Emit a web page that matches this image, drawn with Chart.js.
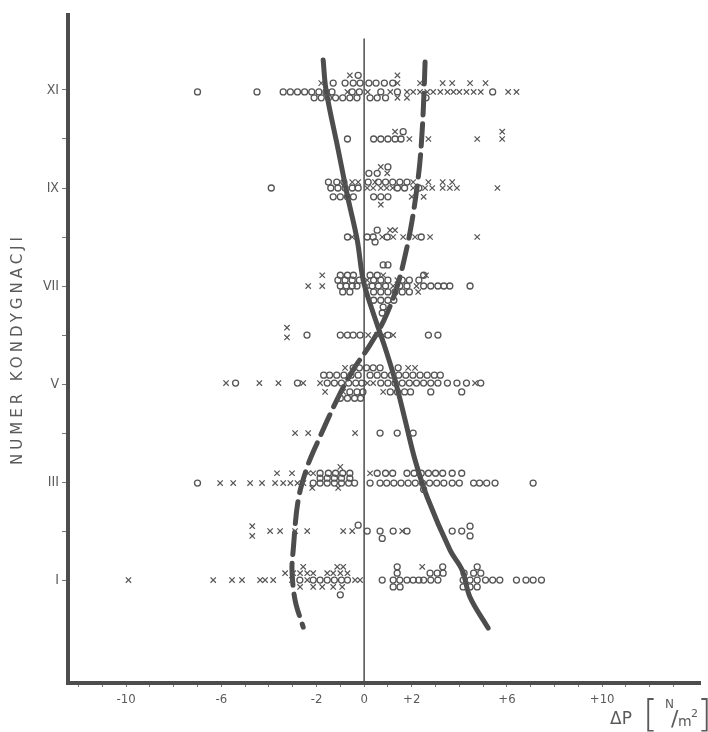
<!DOCTYPE html>
<html>
<head>
<meta charset="utf-8">
<title>Numer kondygnacji / ΔP</title>
<script src="https://cdn.jsdelivr.net/npm/chart.js@4.4.1/dist/chart.umd.min.js"></script>
<style>
  html, body { margin: 0; padding: 0; background: #fff; }
  #wrap { width: 708px; height: 732px; }
</style>
</head>
<body>
<div id="wrap"><canvas id="chart" width="708" height="732"></canvas></div>
<script>
// level numbers (I..XI) and the labels shown on the left axis
const levels = [1, 2, 3, 4, 5, 6, 7, 8, 9, 10, 11];
const levelLabels = ['I', '', 'III', '', 'V', '', 'VII', '', 'IX', '', 'XI'];
const xTickLabels = { '-10': '-10', '-6': '-6', '-2': '-2', '0': '0', '2': '+2', '6': '+6', '10': '+10' };

// measured points [ΔP, level]; rows are slightly stacked around each level
const crossPoints = [
  // XI
  [-0.6, 11.3], [1.4, 11.3],
  [-1.8, 11.14], [1.4, 11.14], [2.35, 11.14], [3.3, 11.14], [3.7, 11.14], [4.45, 11.14], [5.1, 11.14],
  [-0.7, 10.96], [0.15, 10.96], [1.1, 10.96], [1.8, 10.96], [2.06, 10.96], [2.35, 10.96], [2.65, 10.96],
  [2.9, 10.96], [3.2, 10.96], [3.5, 10.96], [3.75, 10.96], [4.0, 10.96], [4.3, 10.96], [4.6, 10.96],
  [4.9, 10.96], [6.05, 10.96], [6.4, 10.96],
  [1.4, 10.84], [1.8, 10.84],
  // X
  [1.9, 10], [2.7, 10], [4.75, 10], [5.8, 10], [1.3, 10.15], [5.8, 10.15],
  // IX
  [0.7, 9.43], [0.97, 9.3],
  [-0.5, 9.12], [-0.25, 9.12], [0.46, 9.12], [2.06, 9.12], [2.7, 9.12], [3.3, 9.12], [3.7, 9.12],
  [0.13, 9], [0.38, 9], [0.7, 9], [0.95, 9], [1.2, 9], [2.06, 9], [2.56, 9], [2.86, 9], [3.3, 9],
  [3.6, 9], [3.9, 9], [5.6, 9],
  [2.0, 8.82], [2.5, 8.82], [0.7, 8.66],
  // VIII
  [-0.5, 8], [0.76, 8], [1.22, 8], [1.64, 8], [2.14, 8], [2.77, 8], [4.75, 8], [1.09, 8.14], [1.3, 8.14],
  // VII
  [-1.76, 7.22], [0.8, 7.22], [2.6, 7.22],
  [0.13, 7.12], [1.4, 7.12],
  [-2.35, 7], [-1.76, 7], [0.1, 7], [1.22, 7], [2.2, 7],
  [2.27, 6.88],
  // VI
  [-3.24, 6.15], [-3.24, 5.95], [0.17, 6], [0.55, 6], [0.8, 6], [1.22, 6],
  // V
  [-0.8, 5.33], [1.85, 5.33], [2.14, 5.33],
  [-5.8, 5.02], [-4.4, 5.02], [-3.6, 5.02], [-2.56, 5.02], [-1.85, 5.02], [0.13, 5.02], [0.38, 5.02], [4.66, 5.02],
  [-1.64, 4.84], [-0.88, 4.84], [0.8, 4.84],
  // IV
  [-2.9, 4], [-2.35, 4], [-0.38, 4],
  // III
  [-1.0, 3.31],
  [-3.66, 3.18], [-3.03, 3.18], [-2.35, 3.18], [-2.14, 3.18], [0.25, 3.18],
  [-6.05, 2.98], [-5.5, 2.98], [-4.79, 2.98], [-4.29, 2.98], [-3.74, 2.98], [-3.4, 2.98], [-3.1, 2.98],
  [-2.8, 2.98], [-2.55, 2.98],
  [-2.18, 2.88], [-1.09, 2.88],
  // II
  [-4.7, 2.1], [-4.7, 1.9], [-3.95, 2], [-3.53, 2], [-2.9, 2], [-2.39, 2], [-0.88, 2], [-0.5, 2], [1.6, 2],
  // I
  [-2.56, 1.27], [-1.13, 1.27], [-0.88, 1.27], [2.44, 1.27],
  [-3.32, 1.14], [-2.98, 1.14], [-2.69, 1.14], [-2.39, 1.14], [-2.14, 1.14], [-1.55, 1.14], [-1.3, 1.14],
  [-1.0, 1.14], [-0.7, 1.14],
  [-9.9, 1], [-6.34, 1], [-5.55, 1], [-5.13, 1], [-4.37, 1], [-4.16, 1], [-3.82, 1], [-3.03, 1], [-2.39, 1],
  [-0.38, 1], [-0.17, 1],
  [-2.69, 0.86], [-2.14, 0.86], [-1.76, 0.86], [-1.3, 0.86], [-0.92, 0.86]
];

const circlePoints = [
  // XI
  [-0.25, 11.3],
  [-1.3, 11.14], [-0.8, 11.14], [-0.46, 11.14], [-0.17, 11.14], [0.2, 11.14], [0.5, 11.14], [0.85, 11.14], [1.2, 11.14],
  [-7.0, 10.96], [-4.5, 10.96], [-3.4, 10.96], [-3.1, 10.96], [-2.8, 10.96], [-2.5, 10.96], [-2.2, 10.96],
  [-1.9, 10.96], [-1.6, 10.96], [-1.35, 10.96], [-0.5, 10.96], [-0.2, 10.96], [0.7, 10.96], [1.4, 10.96], [5.4, 10.96],
  [-2.1, 10.84], [-1.8, 10.84], [-1.5, 10.84], [-1.2, 10.84], [-0.9, 10.84], [-0.6, 10.84], [-0.3, 10.84],
  [0.25, 10.84], [0.55, 10.84], [0.9, 10.84], [2.6, 10.84],
  // X
  [-0.7, 10], [0.4, 10], [0.7, 10], [1.0, 10], [1.3, 10], [1.55, 10], [1.64, 10.15],
  // IX
  [1.0, 9.43], [0.2, 9.3], [0.55, 9.3],
  [-1.5, 9.12], [-1.15, 9.12], [-0.85, 9.12], [0.17, 9.12], [0.6, 9.12], [0.9, 9.12], [1.2, 9.12], [1.5, 9.12], [1.8, 9.12],
  [-3.9, 9], [-1.4, 9], [-1.1, 9], [-0.8, 9], [-0.5, 9], [-0.25, 9], [1.4, 9], [1.7, 9], [2.3, 9],
  [-1.3, 8.82], [-1.0, 8.82], [-0.7, 8.82], [-0.45, 8.82], [0.4, 8.82], [0.7, 8.82], [1.0, 8.82],
  // VIII
  [-0.7, 8], [0.13, 8], [0.38, 8], [0.97, 8], [2.4, 8], [0.55, 8.14], [0.46, 7.9],
  // VII
  [0.8, 7.43], [1.0, 7.43],
  [-1.0, 7.22], [-0.7, 7.22], [-0.45, 7.22], [0.25, 7.22], [0.55, 7.22], [2.5, 7.22],
  [-1.1, 7.12], [-0.8, 7.12], [-0.5, 7.12], [-0.2, 7.12], [0.4, 7.12], [0.7, 7.12], [1.0, 7.12], [1.6, 7.12],
  [1.9, 7.12], [2.3, 7.12],
  [-1.0, 7], [-0.75, 7], [-0.5, 7], [-0.3, 7], [0.34, 7], [0.6, 7], [0.9, 7], [1.5, 7], [1.8, 7], [2.5, 7],
  [2.8, 7], [3.1, 7], [3.35, 7], [3.6, 7], [4.45, 7],
  [-0.9, 6.88], [-0.6, 6.88], [0.4, 6.88], [0.7, 6.88], [1.0, 6.88], [1.3, 6.88], [1.6, 6.88], [1.9, 6.88],
  [0.4, 6.71], [0.7, 6.71], [1.0, 6.71], [1.25, 6.71],
  [0.8, 6.57], [0.76, 6.45],
  // VI
  [-2.4, 6], [-1.0, 6], [-0.7, 6], [-0.46, 6], [-0.17, 6], [1.0, 6], [2.7, 6], [3.1, 6],
  // V
  [-0.46, 5.33], [-0.2, 5.33], [0.1, 5.33], [0.38, 5.33], [0.67, 5.33], [1.43, 5.33],
  [-1.7, 5.18], [-1.45, 5.18], [-1.15, 5.18], [-0.85, 5.18], [-0.55, 5.18], [-0.25, 5.18], [0.25, 5.18],
  [0.55, 5.18], [0.85, 5.18], [1.15, 5.18], [1.45, 5.18], [1.75, 5.18], [2.05, 5.18], [2.35, 5.18],
  [2.65, 5.18], [2.95, 5.18], [3.2, 5.18],
  [-5.4, 5.02], [-2.8, 5.02], [-1.55, 5.02], [-1.25, 5.02], [-0.95, 5.02], [-0.65, 5.02], [-0.35, 5.02],
  [-0.1, 5.02], [0.7, 5.02], [1.0, 5.02], [1.3, 5.02], [1.6, 5.02], [1.9, 5.02], [2.2, 5.02], [2.5, 5.02],
  [2.8, 5.02], [3.1, 5.02], [3.5, 5.02], [3.9, 5.02], [4.3, 5.02], [4.9, 5.02],
  [-0.6, 4.84], [-0.3, 4.84], [-0.05, 4.84], [1.1, 4.84], [1.4, 4.84], [1.7, 4.84], [1.95, 4.84], [2.8, 4.84], [4.1, 4.84],
  [-1.0, 4.71], [-0.7, 4.71], [-0.4, 4.71], [-0.15, 4.71],
  // IV
  [0.67, 4], [1.39, 4], [2.06, 4],
  // III
  [-1.85, 3.18], [-1.5, 3.18], [-1.2, 3.18], [-0.9, 3.18], [-0.6, 3.18], [0.55, 3.18], [0.9, 3.18], [1.2, 3.18],
  [1.8, 3.18], [2.1, 3.18], [2.4, 3.18], [2.7, 3.18], [3.0, 3.18], [3.3, 3.18], [3.7, 3.18], [4.1, 3.18],
  [-1.85, 3.08], [-1.55, 3.08], [-1.25, 3.08], [-0.95, 3.08], [-0.6, 3.08],
  [-7.0, 2.98], [-2.14, 2.98], [-1.85, 2.98], [-1.55, 2.98], [-1.25, 2.98], [-0.95, 2.98], [-0.65, 2.98],
  [-0.4, 2.98], [0.25, 2.98], [0.67, 2.98], [0.95, 2.98], [1.25, 2.98], [1.55, 2.98], [1.85, 2.98],
  [2.15, 2.98], [2.45, 2.98], [2.75, 2.98], [3.05, 2.98], [3.35, 2.98], [3.7, 2.98], [4.0, 2.98],
  [4.6, 2.98], [4.85, 2.98], [5.15, 2.98], [5.5, 2.98], [7.1, 2.98],
  [2.5, 2.85],
  // II
  [-0.25, 2.12], [0.13, 2], [0.67, 2], [1.22, 2], [1.8, 2], [3.7, 2], [4.1, 2], [4.45, 2.1], [4.45, 1.9], [0.76, 1.85],
  // I
  [1.39, 1.27], [3.3, 1.27], [4.75, 1.27],
  [1.39, 1.14], [2.77, 1.14], [3.07, 1.14], [3.32, 1.14], [4.2, 1.14], [4.6, 1.14], [4.9, 1.14],
  [-2.7, 1], [-2.14, 1], [-1.85, 1], [-1.55, 1], [-1.25, 1], [-0.95, 1], [-0.7, 1], [0.76, 1], [1.22, 1],
  [1.5, 1], [1.8, 1], [2.06, 1], [2.3, 1], [2.5, 1], [2.8, 1], [3.1, 1], [4.16, 1], [4.45, 1], [4.75, 1],
  [5.1, 1], [5.4, 1], [5.7, 1], [6.4, 1], [6.8, 1], [7.1, 1], [7.45, 1],
  [1.22, 0.86], [1.51, 0.86], [4.16, 0.86], [4.45, 0.86], [4.75, 0.86],
  [-1.0, 0.7]
];

// hand-drawn envelope curves [ΔP, level]
const curveSolid = [
  [-1.72, 11.61], [-1.6, 11.0], [-1.09, 9.78], [-0.71, 8.86], [-0.29, 7.94], [-0.04, 7.12], [0.34, 6.51],
  [0.84, 5.8], [1.3, 5.08], [1.72, 4.27], [2.14, 3.45], [2.65, 2.69], [3.61, 1.61], [4.12, 1.2],
  [4.45, 0.65], [5.21, 0.02]
];
const curveDashed = [
  [2.56, 11.57], [2.52, 11.0], [2.44, 10.18], [2.31, 9.37], [2.02, 8.35], [1.68, 7.53], [1.34, 6.92],
  [0.84, 6.31], [0.25, 5.8], [-0.46, 5.29], [-1.09, 4.73], [-1.97, 3.8], [-2.39, 3.31], [-2.77, 2.63],
  [-2.98, 1.61], [-3.03, 1.2], [-2.9, 0.59], [-2.56, 0.04]
];

const yTitle = 'NUMER KONDYGNACJI';
const xTitle = 'ΔP';

const ink = '#4d4d4d';
const textInk = '#5a5a5a';
const toXY = arr => arr.map(p => ({ x: p[0], y: p[1] }));

const axisTitles = {
  id: 'axisTitles',
  afterDraw(chart) {
    const ctx = chart.ctx;
    const area = chart.chartArea;
    ctx.save();
    ctx.fillStyle = textInk;
    ctx.font = '15px "DejaVu Sans"';
    ctx.letterSpacing = '4px';
    ctx.textAlign = 'center';
    ctx.textBaseline = 'middle';
    ctx.translate(18, (area.top + area.bottom) / 2);
    ctx.rotate(-Math.PI / 2);
    ctx.fillText(yTitle, 0, 0);
    ctx.restore();

    ctx.save();
    ctx.fillStyle = textInk;
    ctx.textBaseline = 'alphabetic';
    ctx.textAlign = 'left';
    ctx.font = '17px "DejaVu Sans"';
    ctx.fillText(xTitle, 610, 724);
    ctx.font = '200 38px "DejaVu Sans"';
    ctx.fillText('[', 643, 726);
    ctx.fillText(']', 697, 726);
    ctx.font = '12px "DejaVu Sans"';
    ctx.fillText('N', 665, 708);
    ctx.font = '22px "DejaVu Sans"';
    ctx.fillText('/', 671, 726);
    ctx.font = '14px "DejaVu Sans"';
    ctx.fillText('m', 678, 726);
    ctx.font = '11px "DejaVu Sans"';
    ctx.fillText('2', 691, 717);
    ctx.restore();
  }
};

new Chart(document.getElementById('chart'), {
  type: 'scatter',
  data: {
    datasets: [
      {
        label: 'zero',
        data: toXY([[0, -1.1], [0, 12.05]]),
        showLine: true,
        borderColor: ink,
        borderWidth: 1.5,
        pointRadius: 0
      },
      {
        label: 'x',
        data: toXY(crossPoints),
        pointStyle: 'crossRot',
        pointRadius: 3.8,
        borderColor: '#555',
        borderWidth: 1.2
      },
      {
        label: 'o',
        data: toXY(circlePoints),
        pointStyle: 'circle',
        pointRadius: 3,
        backgroundColor: 'rgba(255,255,255,0)',
        borderColor: '#555',
        borderWidth: 1.3
      },
      {
        label: 'solid',
        data: toXY(curveSolid),
        showLine: true,
        tension: 0.35,
        borderColor: ink,
        borderWidth: 5,
        borderCapStyle: 'round',
        pointRadius: 0
      },
      {
        label: 'dashed',
        data: toXY(curveDashed),
        showLine: true,
        tension: 0.35,
        borderColor: ink,
        borderWidth: 5,
        borderDash: [22, 9],
        borderCapStyle: 'round',
        pointRadius: 0
      }
    ]
  },
  plugins: [axisTitles],
  options: {
    responsive: false,
    animation: false,
    layout: { padding: { top: 15, right: 8, left: 0, bottom: 0 } },
    plugins: {
      legend: { display: false },
      tooltip: { enabled: false }
    },
    scales: {
      x: {
        type: 'linear',
        min: -12.44,
        max: 14.11,
        afterFit: s => { s.height = 49; },
        afterBuildTicks: s => {
          const t = [];
          for (let v = -12; v <= 13; v++) t.push({ value: v });
          s.ticks = t;
        },
        grid: { drawOnChartArea: false, drawTicks: true, tickLength: 4, color: '#777', lineWidth: 1 },
        border: { display: true, color: ink, width: 4 },
        ticks: {
          autoSkip: false,
          maxRotation: 0,
          padding: 5,
          color: textInk,
          font: { family: '"DejaVu Sans Condensed", "DejaVu Sans"', size: 13 },
          callback: v => xTickLabels[String(v)] || ''
        }
      },
      y: {
        type: 'linear',
        min: -1.1,
        max: 12.53,
        afterFit: s => { s.width = 68; },
        afterBuildTicks: s => { s.ticks = levels.map(v => ({ value: v })); },
        grid: { drawOnChartArea: false, drawTicks: true, tickLength: 6, color: '#777', lineWidth: 1 },
        border: { display: true, color: ink, width: 4 },
        ticks: {
          autoSkip: false,
          padding: 3,
          color: textInk,
          font: { family: '"DejaVu Sans Condensed", "DejaVu Sans"', size: 14 },
          callback: v => levelLabels[levels.indexOf(v)] || ''
        }
      }
    }
  }
});
</script>
</body>
</html>
